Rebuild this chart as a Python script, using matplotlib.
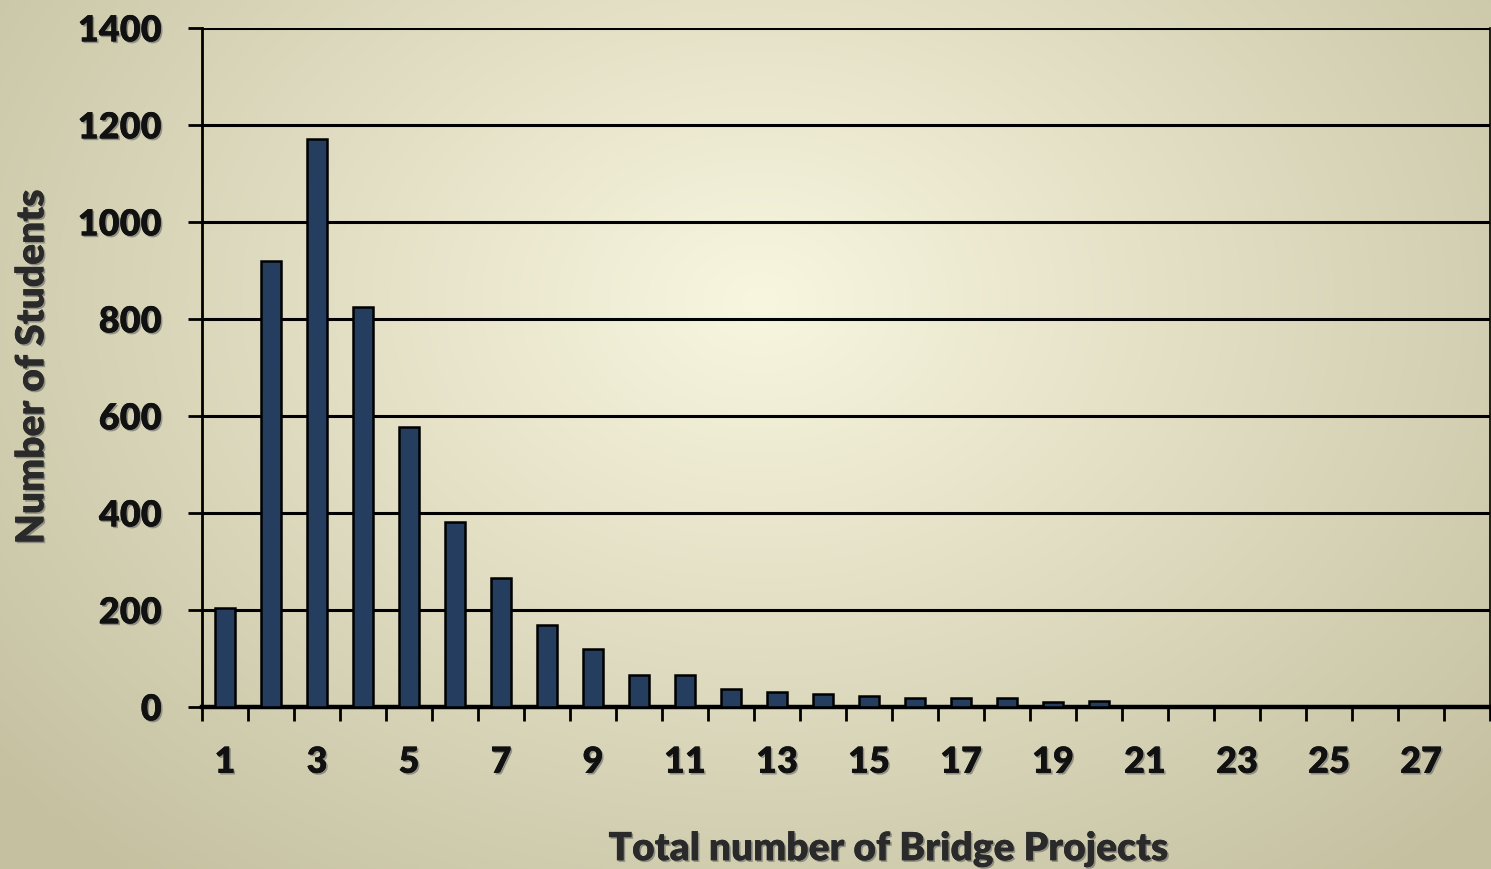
import numpy as np
import matplotlib.pyplot as plt
import matplotlib.patheffects as pe

projects = list(range(1, 29))
students = [205, 920, 1172, 824, 578, 381, 265, 169, 120, 66, 66, 38, 31, 27, 23, 19, 18, 18,
            10, 12, 3, 2, 2, 2, 1, 1, 1, 1]
tick_labels = [str(p) if p % 2 == 1 else '' for p in projects]

plt.rcParams['font.family'] = ['Lato', 'DejaVu Sans']
plt.rcParams['font.weight'] = 'bold'

fig = plt.figure(figsize=(14.91, 8.69), dpi=100)

# radial background
bg = fig.add_axes([0, 0, 1, 1], zorder=0)
yy, xx = np.mgrid[0:869, 0:1491]
d = np.sqrt(((xx - 760) / 1000.0) ** 2 + ((yy - 300) / 750.0) ** 2)
d = np.clip(d, 0, 1)
c0 = np.array([249, 246, 224]) / 255.0
c1 = np.array([196, 192, 160]) / 255.0
img = c0[None, None, :] * (1 - d[..., None]) + c1[None, None, :] * d[..., None]
bg.imshow(img, aspect='auto', extent=[0, 1, 0, 1])
bg.axis('off')

ax = fig.add_axes([202 / 1491, 162 / 869, 1288 / 1491, 679 / 869], zorder=1)
ax.patch.set_alpha(0)

ax.bar(projects, students, width=0.42, color='#253d5e', edgecolor='black', linewidth=1.8, zorder=3)

ax.set_xlim(0.5, 28.5)
ax.set_ylim(0, 1400)
ax.set_yticks(range(0, 1401, 200))
ax.yaxis.grid(True, color='black', linewidth=2.2, zorder=1)
ax.set_axisbelow(True)

shadow = [pe.withSimplePatchShadow(offset=(1.2, -1.2), shadow_rgbFace='#666666', alpha=0.6), pe.Normal()]

ax.set_xticks(np.arange(0.5, 28.6, 1))
ax.set_xticklabels([])
ax.set_xticks(projects, minor=True)
ax.set_xticklabels(tick_labels, minor=True, fontsize=26, fontweight='heavy', color='#111111',
                   path_effects=shadow)
ax.tick_params(axis='x', which='major', length=10, width=2, direction='out', color='black')
ax.tick_params(axis='x', which='minor', length=0, pad=28)
ax.tick_params(axis='y', length=10, width=2, pad=19, labelsize=26, color='black')
for t in ax.get_yticklabels():
    t.set_fontweight('heavy')
    t.set_color('#111111')
    t.set_path_effects(shadow)

for s in ['top', 'right']:
    ax.spines[s].set_visible(False)
ax.spines['left'].set_linewidth(2)
ax.spines['bottom'].set_linewidth(3.2)
ax.spines['right'].set_visible(True)
ax.spines['right'].set_linewidth(1.2)

fig.text(888 / 1491, 1 - 849 / 869, 'Total number of Bridge Projects', fontsize=28, fontweight='heavy',
         color='#2a2a2a', ha='center', va='center', path_effects=shadow)
fig.text(32 / 1491, 1 - 367 / 869, 'Number of Students', fontsize=28, fontweight='heavy',
         color='#2a2a2a', ha='center', va='center', rotation=90, path_effects=shadow)

fig.savefig('out.png', dpi=100)
